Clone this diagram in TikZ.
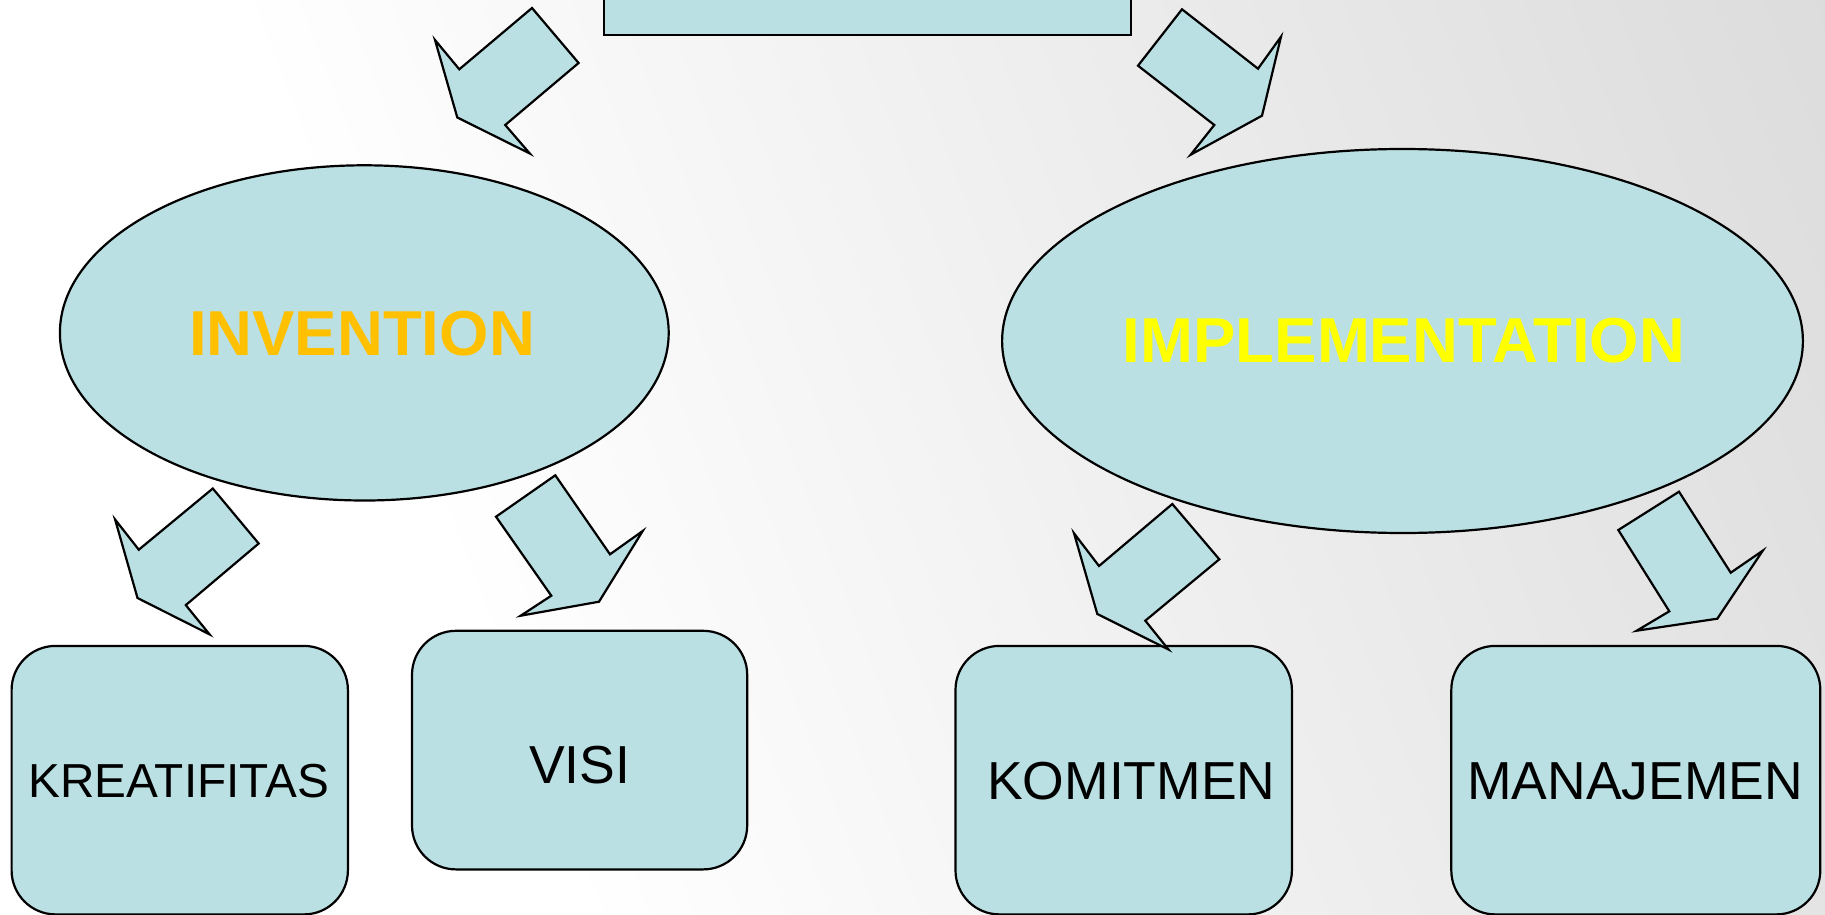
\documentclass[tikz,border=0pt]{standalone}
\usepackage{fontspec}
\setmainfont{Liberation Sans}
\usetikzlibrary{shapes.geometric}
\definecolor{fillblue}{RGB}{187,224,227}
\definecolor{bggray}{RGB}{224,224,224}
\definecolor{bgdark}{RGB}{214,214,214}
\definecolor{invorange}{RGB}{255,192,0}
\definecolor{impyellow}{RGB}{255,255,0}
\pgfdeclarehorizontalshading{bgshade}{100bp}{color(0bp)=(white); color(41bp)=(white); color(66bp)=(bggray); color(75bp)=(bgdark); color(100bp)=(bgdark)}
\begin{document}
\begin{tikzpicture}[x=1pt,y=-1pt,
  bluefill/.style={draw=black, line width=2.2pt, fill=fillblue},
  oval/.style={bluefill, ellipse, inner sep=0pt},
  card/.style={bluefill, rectangle, rounded corners=44pt, inner sep=0pt, anchor=north west},
  topbox/.style={bluefill, rectangle, inner sep=0pt, anchor=south west},
  blockarrow/.style={bluefill, line join=miter},
  lbl/.style={font=\fontsize{53.5}{60}\selectfont, text=black, inner sep=0pt},
  smalllbl/.style={font=\fontsize{47.7}{54}\selectfont, text=black, inner sep=0pt},
  title/.style={font=\fontsize{63.5}{70}\selectfont\bfseries, inner sep=0pt}]
\useasboundingbox (0,0) rectangle (1825,915);
% background
\begin{scope}
  \clip (0,0) rectangle (1825,915);
  \begin{scope}[transform canvas={rotate around={21:(912.5,457.5)}}]
    \shade[shading=bgshade] (-400,-700) rectangle (2225,1615);
  \end{scope}
\end{scope}
% top box
\node[topbox, minimum width=527pt, minimum height=100pt] (top) at (603,36) {};
% top arrows
\draw[blockarrow] (532,8)--(578.6,63)--(505.2,125)--(529.8,153.5)--(457.3,117.5)--(435,40)--(459.3,69.3)--cycle;
\draw[blockarrow] (1182,9.3)--(1258,68.7)--(1281,36.7)--(1262,115.7)--(1190.7,154.7)--(1214.3,125)--(1138,65.7)--cycle;
% ellipses
\node[oval, minimum width=608.8pt, minimum height=335.2pt] (inv) at (364.3,332.9) {};
\node[title, text=invorange] (invt) at (362,334) {INVENTION};
\node[oval, minimum width=800.8pt, minimum height=384pt] (imp) at (1402.5,341) {};
\node[title, text=impyellow] (impt) at (1404,341) {IMPLEMENTATION};
% bottom boxes
\node[card, minimum width=336.3pt, minimum height=268.5pt] (kre) at (10.5,644.8) {};
\node[smalllbl] (kret) at (178.7,781.5) {KREATIFITAS};
\node[card, minimum width=335.2pt, minimum height=238.6pt] (visi) at (410.9,629.7) {};
\node[lbl] (visit) at (579.6,765) {VISI};
\node[card, minimum width=336.4pt, minimum height=268.5pt] (kom) at (954.4,644.8) {};
\node[lbl] (komt) at (1131.3,781.5) {KOMITMEN};
\node[card, minimum width=369pt, minimum height=268.5pt] (man) at (1450.2,644.8) {};
\node[lbl] (mant) at (1635.3,781.5) {MANAJEMEN};
% bottom arrows
\draw[blockarrow] (212.8,488.5)--(258.7,543.5)--(185.8,605.1)--(209.5,634.3)--(137.5,598)--(115.1,519.5)--(138.8,549.7)--cycle;
\draw[blockarrow] (555.3,475.3)--(610,554.3)--(642.7,531)--(599,601.7)--(520.7,615.7)--(551.3,595.7)--(496,516.7)--cycle;
\draw[blockarrow] (1172.3,504)--(1219.3,559.3)--(1145.3,620.7)--(1168.5,649.5)--(1097.3,614)--(1074,533.3)--(1099,566)--cycle;
\draw[blockarrow] (1679,491.7)--(1730.7,572.7)--(1762.7,550.7)--(1717.3,618.7)--(1636.7,630.7)--(1669.3,611.3)--(1618.3,530)--cycle;
\end{tikzpicture}
\end{document}
